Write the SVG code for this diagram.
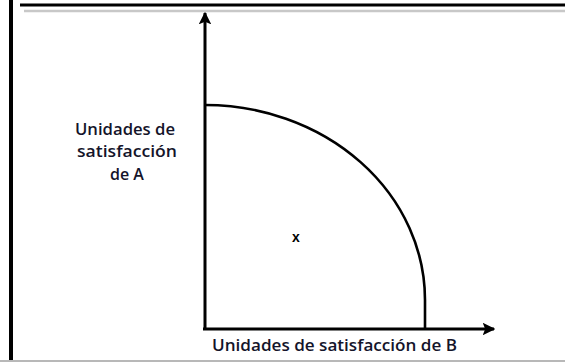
<svg xmlns="http://www.w3.org/2000/svg" width="565" height="362" viewBox="0 0 565 362">
<style>
.lbl{font-family:"Open Sans","Liberation Sans",sans-serif;font-size:16px;font-weight:600;fill:#14142a;}
.ax{stroke:#000;stroke-width:3;fill:none;}
</style>
<defs>
<marker id="ah" viewBox="0 0 10 10" refX="9" refY="5" markerWidth="4.2" markerHeight="4.2" orient="auto" markerUnits="strokeWidth">
<path d="M0,0 L10,5 L0,10 L2,5 z" fill="#000"/>
</marker>
</defs>
<rect width="565" height="362" fill="#fff"/>
<g id="frame">
<line x1="11" y1="0" x2="11" y2="362" stroke="#000" stroke-width="4"/>
<line x1="20" y1="5" x2="565" y2="5" stroke="#000" stroke-width="3"/>
<line x1="24" y1="11" x2="565" y2="11" stroke="#c8c8c8" stroke-width="2.5"/>
<line x1="0" y1="361" x2="565" y2="361" stroke="#b8b8b8" stroke-width="2"/>
</g>
<g id="connectors">
<line class="ax" x1="205" y1="330" x2="205" y2="13" marker-end="url(#ah)"/>
<line class="ax" x1="203" y1="329" x2="494" y2="329" marker-end="url(#ah)"/>
<path id="frontier" d="M205,105 A220,195 0 0 1 425,300 L425,329" stroke="#000" stroke-width="2.6" fill="none"/>
</g>
<g id="labelA">
<text class="lbl" text-anchor="middle"><tspan x="125" y="135" textLength="100" lengthAdjust="spacingAndGlyphs">Unidades de</tspan><tspan x="127" y="157" textLength="100" lengthAdjust="spacingAndGlyphs">satisfacción</tspan><tspan x="127" y="180">de A</tspan></text>
</g>
<g id="labelB">
<text class="lbl" x="212" y="351" textLength="245" lengthAdjust="spacingAndGlyphs">Unidades de satisfacción de B</text>
</g>
<g id="point">
<text x="296" y="242" font-family="Liberation Sans, sans-serif" font-size="14" font-weight="bold" text-anchor="middle" fill="#000">x</text>
</g>
</svg>
